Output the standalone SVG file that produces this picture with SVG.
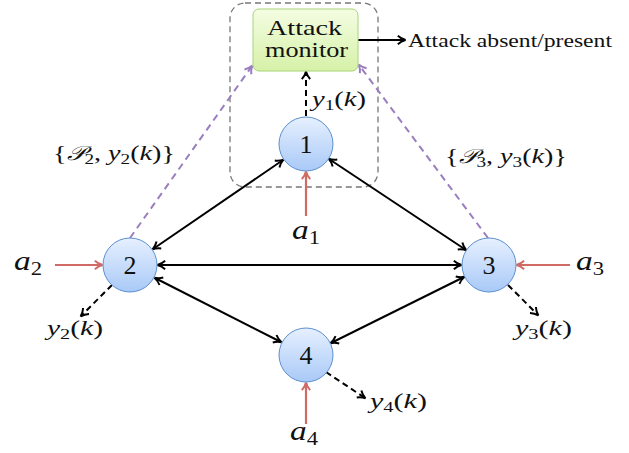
<svg xmlns="http://www.w3.org/2000/svg" width="629" height="453" viewBox="0 0 629 453">
<style>
text{font-family:"Liberation Serif","DejaVu Serif",serif;fill:#111}
.m{font-style:italic}
.num{font-size:26px;text-anchor:middle}
.lab{font-size:28px}
.sm{font-size:22px}
.node{fill:url(#gb);stroke:#5b8fd0;stroke-width:1}
.e{stroke:#000;stroke-width:2;fill:none}
.d{stroke:#000;stroke-width:2;fill:none;stroke-dasharray:6,4}
.r{stroke:#d06a64;stroke-width:2.2;fill:none}
.p{stroke:#9a7fc0;stroke-width:2;fill:none;stroke-dasharray:7,5}
</style>
<defs>
<linearGradient id="gb" x1="0" y1="0" x2="0" y2="1"><stop offset="0" stop-color="#e6f0ff"/><stop offset="1" stop-color="#a9c9f7"/></linearGradient>
<linearGradient id="gg" x1="0" y1="0" x2="0" y2="1"><stop offset="0" stop-color="#f4fde2"/><stop offset="1" stop-color="#d6f1a8"/></linearGradient>
<marker id="ak" viewBox="0 0 10 10" refX="8.5" refY="5" markerWidth="11" markerHeight="11" markerUnits="userSpaceOnUse" orient="auto-start-reverse"><path d="M2,1.2 Q5,4 9,5 Q5,6 2,8.8" fill="none" stroke="#000" stroke-width="1.8"/></marker>
<marker id="ar" viewBox="0 0 10 10" refX="8.5" refY="5" markerWidth="11" markerHeight="11" markerUnits="userSpaceOnUse" orient="auto"><path d="M2,1.2 Q5,4 9,5 Q5,6 2,8.8" fill="none" stroke="#d06a64" stroke-width="1.8"/></marker>
<marker id="ap" viewBox="0 0 10 10" refX="8.5" refY="5" markerWidth="11" markerHeight="11" markerUnits="userSpaceOnUse" orient="auto"><path d="M2,1.2 Q5,4 9,5 Q5,6 2,8.8" fill="none" stroke="#9a7fc0" stroke-width="1.8"/></marker>
</defs>

<g id="monitor-region">
<rect x="230" y="3" width="148" height="184" rx="15" fill="none" stroke="#777" stroke-width="1.3" stroke-dasharray="6,4"/>
</g>

<g id="connectors">
<line class="e" x1="283" y1="160" x2="153" y2="249" marker-start="url(#ak)" marker-end="url(#ak)"/>
<line class="e" x1="329" y1="159" x2="466" y2="250" marker-start="url(#ak)" marker-end="url(#ak)"/>
<line class="e" x1="158" y1="265" x2="461" y2="265" marker-start="url(#ak)" marker-end="url(#ak)"/>
<line class="e" x1="155" y1="278" x2="281" y2="342" marker-start="url(#ak)" marker-end="url(#ak)"/>
<line class="e" x1="464" y1="277" x2="331" y2="343" marker-start="url(#ak)" marker-end="url(#ak)"/>
<line class="e" x1="358" y1="40" x2="405" y2="40" marker-end="url(#ak)"/>
<line class="d" x1="306" y1="116" x2="306" y2="72" marker-end="url(#ak)"/>
<line class="d" x1="112" y1="285" x2="81" y2="316" marker-end="url(#ak)"/>
<line class="d" x1="508" y1="285" x2="538" y2="315" marker-end="url(#ak)"/>
<line class="d" x1="326" y1="372" x2="365" y2="398" marker-end="url(#ak)"/>
<line class="p" x1="130" y1="238" x2="252" y2="66" marker-end="url(#ap)"/>
<line class="p" x1="488" y1="238" x2="359" y2="65" marker-end="url(#ap)"/>
<line class="r" x1="55" y1="265" x2="102" y2="265" marker-end="url(#ar)"/>
<line class="r" x1="570" y1="265" x2="517" y2="265" marker-end="url(#ar)"/>
<line class="r" x1="306" y1="216" x2="306" y2="172" marker-end="url(#ar)"/>
<line class="r" x1="306" y1="424" x2="306" y2="383" marker-end="url(#ar)"/>
</g>

<g id="attack-monitor">
<rect x="253" y="9" width="105" height="62" rx="6" fill="url(#gg)" stroke="#a8d47a" stroke-width="1"/>
<text x="267" y="35" font-size="21" textLength="75" lengthAdjust="spacingAndGlyphs">Attack</text>
<text x="265" y="57" font-size="21" textLength="83" lengthAdjust="spacingAndGlyphs">monitor</text>
</g>

<g id="node1"><circle class="node" cx="306" cy="144" r="27"/><text class="num" x="306" y="153">1</text></g>
<g id="node2"><circle class="node" cx="130" cy="265" r="27"/><text class="num" x="130" y="274">2</text></g>
<g id="node3"><circle class="node" cx="489" cy="265" r="27"/><text class="num" x="489" y="274">3</text></g>
<g id="node4"><circle class="node" cx="306" cy="355" r="27"/><text class="num" x="306" y="364">4</text></g>

<g id="labels">
<text x="408" y="47" font-size="19" textLength="204" lengthAdjust="spacingAndGlyphs">Attack absent/present</text>
<text x="312" y="106" class="sm" textLength="54" lengthAdjust="spacingAndGlyphs"><tspan class="m">y</tspan><tspan font-size="15" dy="4">1</tspan><tspan dy="-4">(</tspan><tspan class="m">k</tspan>)</text>
<text x="53" y="160" class="sm" textLength="122" lengthAdjust="spacingAndGlyphs">{<tspan class="m" font-family="'DejaVu Serif',serif" font-size="20">𝒫</tspan><tspan font-size="15" dy="4">2</tspan><tspan dy="-4">, </tspan><tspan class="m">y</tspan><tspan font-size="15" dy="4">2</tspan><tspan dy="-4">(</tspan><tspan class="m">k</tspan>)}</text>
<text x="445" y="163" class="sm" textLength="122" lengthAdjust="spacingAndGlyphs">{<tspan class="m" font-family="'DejaVu Serif',serif" font-size="20">𝒫</tspan><tspan font-size="15" dy="4">3</tspan><tspan dy="-4">, </tspan><tspan class="m">y</tspan><tspan font-size="15" dy="4">3</tspan><tspan dy="-4">(</tspan><tspan class="m">k</tspan>)}</text>
<text x="14" y="270" class="lab" textLength="28" lengthAdjust="spacingAndGlyphs"><tspan class="m">a</tspan><tspan font-size="19" dy="5">2</tspan></text>
<text x="576" y="270" class="lab" textLength="28" lengthAdjust="spacingAndGlyphs"><tspan class="m">a</tspan><tspan font-size="19" dy="5">3</tspan></text>
<text x="292" y="239" class="lab" textLength="28" lengthAdjust="spacingAndGlyphs"><tspan class="m">a</tspan><tspan font-size="19" dy="5">1</tspan></text>
<text x="290" y="440" class="lab" textLength="28" lengthAdjust="spacingAndGlyphs"><tspan class="m">a</tspan><tspan font-size="19" dy="5">4</tspan></text>
<text x="47" y="335" class="sm" textLength="56" lengthAdjust="spacingAndGlyphs"><tspan class="m">y</tspan><tspan font-size="15" dy="4">2</tspan><tspan dy="-4">(</tspan><tspan class="m">k</tspan>)</text>
<text x="515" y="335" class="sm" textLength="57" lengthAdjust="spacingAndGlyphs"><tspan class="m">y</tspan><tspan font-size="15" dy="4">3</tspan><tspan dy="-4">(</tspan><tspan class="m">k</tspan>)</text>
<text x="370" y="408" class="sm" textLength="57" lengthAdjust="spacingAndGlyphs"><tspan class="m">y</tspan><tspan font-size="15" dy="4">4</tspan><tspan dy="-4">(</tspan><tspan class="m">k</tspan>)</text>
</g>
</svg>
